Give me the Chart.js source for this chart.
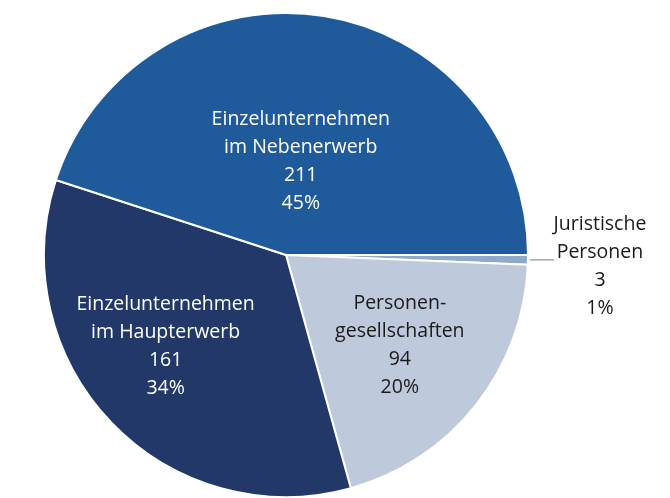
<!DOCTYPE html>
<html>
<head>
<meta charset="utf-8">
<script src="https://cdn.jsdelivr.net/npm/chart.js@4.4.1/dist/chart.umd.min.js"></script>
<style>
    html, body { margin: 0; padding: 0; background: #fff; }
    #wrap { width: 670px; height: 498px; }
</style>
</head>
<body>
<div id="wrap"><canvas id="chart"></canvas></div>
<script>
// Data (clockwise from 3 o'clock)
const categories = [
    ['Juristische', 'Personen'],
    ['Personen-', 'gesellschaften'],
    ['Einzelunternehmen', 'im Haupterwerb'],
    ['Einzelunternehmen', 'im Nebenerwerb']
]
const counts = [3, 94, 161, 211]
const percents = ['1%', '20%', '34%', '45%']

const sliceColors = ['#8FA9CB', '#BEC9DB', '#213868', '#1F5B9B']
const textColors = ['#1a1a1a', '#1a1a1a', '#ffffff', '#ffffff']
// how far out (fraction of radius) each label sits, null = outside with leader line
const labelRadius = [null, 0.6, 0.625, 0.39]
// small turn of the label off the slice middle, degrees
const labelTurn = [0, 0, 6.5, 0]

const FONT = '19.5px "Open Sans", "Noto Sans", sans-serif'
const LINE_H = 28

// Draws the multi-line labels on / next to each slice
const sliceLabels = {
    id: 'sliceLabels',
    afterDatasetsDraw (chart) {
        const ctx = chart.ctx
        const meta = chart.getDatasetMeta(0)
        ctx.save()
        ctx.font = FONT
        ctx.textAlign = 'center'
        ctx.textBaseline = 'middle'

        meta.data.forEach((arc, i) => {
            const mid = (arc.startAngle + arc.endAngle) / 2 + labelTurn[i] * Math.PI / 180
            const lines = categories[i].concat([String(counts[i]), percents[i]])
            let cx, cy
            if (labelRadius[i] === null) {
                // leader line from the slice edge to the text
                const y = arc.y + Math.sin(mid) * arc.outerRadius
                const x0 = arc.x + Math.cos(mid) * arc.outerRadius + 2
                ctx.strokeStyle = '#a6a6a6'
                ctx.lineWidth = 1.5
                ctx.beginPath()
                ctx.moveTo(x0, y)
                ctx.lineTo(x0 + 24, y)
                ctx.stroke()
                cx = x0 + 70
                cy = y + 7
            } else {
                const r = arc.outerRadius * labelRadius[i]
                cx = arc.x + Math.cos(mid) * r
                cy = arc.y + Math.sin(mid) * r
            }
            ctx.fillStyle = textColors[i]
            const top = cy - (lines.length - 1) * LINE_H / 2
            lines.forEach((t, j) => ctx.fillText(t, cx, top + j * LINE_H))
        })
        ctx.restore()
    }
}

const chart = new Chart(document.getElementById('chart').getContext('2d'), {
    type: 'pie',
    data: {
        labels: categories.map(c => c.join(' ')),
        datasets: [{
            data: counts,
            backgroundColor: sliceColors,
            borderColor: '#ffffff',
            borderWidth: 2
        }]
    },
    options: {
        responsive: true,
        maintainAspectRatio: false,
        animation: false,
        rotation: 90,
        layout: { padding: { left: 43, right: 141, top: 12, bottom: 0 } },
        plugins: {
            legend: { display: false },
            tooltip: { enabled: false }
        }
    },
    plugins: [sliceLabels]
})
</script>
</body>
</html>
